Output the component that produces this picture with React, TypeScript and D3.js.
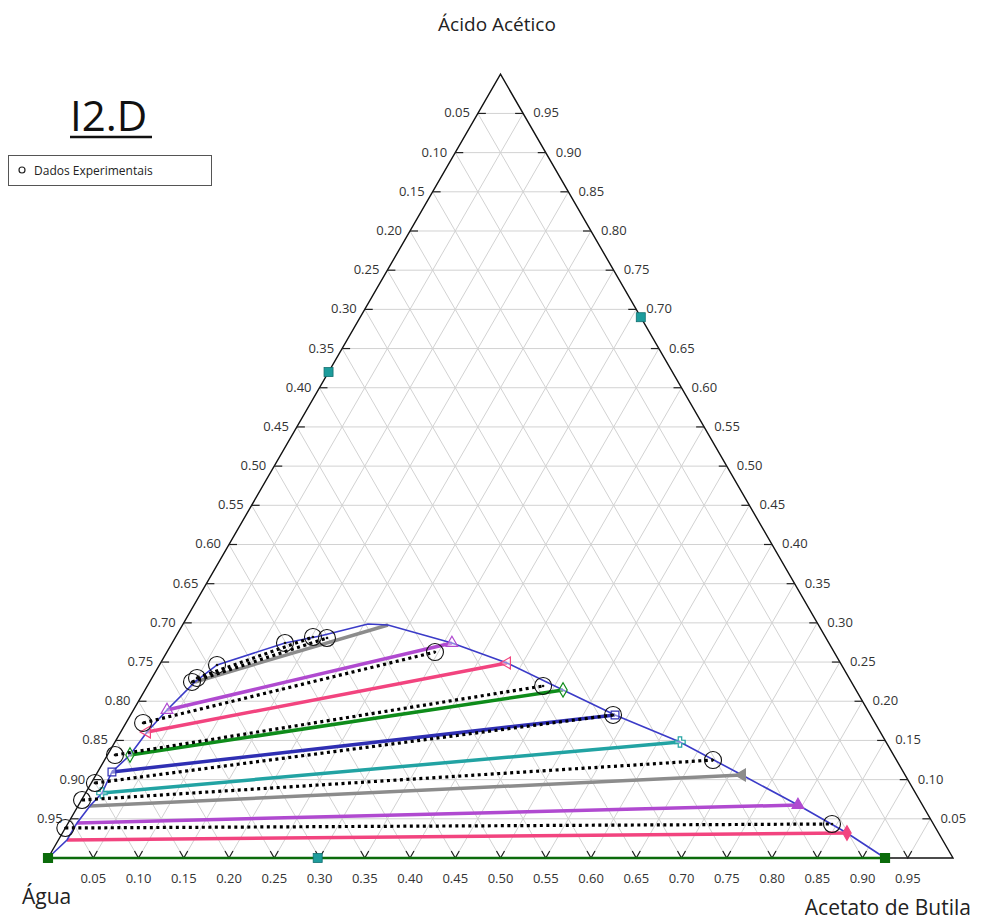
import React, { useRef, useEffect } from 'react';
import * as d3 from 'd3';

// fractions: [acid, butyl acetate]  (water = 1 - a - b)
const ticks = d3.range(1, 20).map(i => i * 0.05);

const binodal: [number, number][] = [
  [0, 0], [0.023, 0.0095], [0.0447, 0.0097], [0.0663, 0.0132], [0.0829, 0.0182],
  [0.1097, 0.0158], [0.1314, 0.0249], [0.1608, 0.029], [0.1888, 0.0371],
  [0.2246, 0.0501], [0.2463, 0.0636], [0.2743, 0.1247], [0.2833, 0.159],
  [0.2986, 0.2043], [0.2973, 0.227], [0.2743, 0.3092], [0.2488, 0.3828],
  [0.2144, 0.4619], [0.1825, 0.5353], [0.148, 0.6243], [0.1059, 0.7139],
  [0.0676, 0.7949], [0.0319, 0.8669], [0, 0.9249],
];

// calculated tie lines: left end, right end, colour, right marker
const tieLeft: [number, number][] = [
  [0, 0], [0.023, 0.0095], [0.0447, 0.0097], [0.0663, 0.0132], [0.0829, 0.0182],
  [0.1097, 0.0158], [0.1314, 0.0249], [0.1608, 0.029], [0.1888, 0.0371], [0.2246, 0.0501],
];
const tieRight: [number, number][] = [
  [0, 0.9249], [0.0319, 0.8669], [0.0676, 0.7949], [0.1059, 0.7139], [0.148, 0.6243],
  [0.1825, 0.5353], [0.2144, 0.4619], [0.2488, 0.3828], [0.2743, 0.3092], [0.2973, 0.227],
];
const tieColors = ['#0b6b0b', '#f2447f', '#b04ad0', '#8c8c8c', '#22a3a3',
  '#2f2fb3', '#0e8c1a', '#f2447f', '#b04ad0', '#8c8c8c'];
const tieSymbols = ['square', 'diamond', 'triangle', 'triangle', 'cross',
  'square', 'diamond', 'triangle', 'triangle', 'none'];
const tieFilled = [true, true, true, true, false, false, false, false, false, false];

// experimental points
const expLeft: [number, number][] = [
  [0.0383, 0], [0.074, 0.0006], [0.0957, 0.004], [0.1314, 0.0083],
  [0.1723, 0.0189], [0.2246, 0.0468], [0.2297, 0.0498],
];
const expRight: [number, number][] = [
  [0.0434, 0.8446], [0.125, 0.6723], [0.1825, 0.5331], [0.2195, 0.4373],
  [0.2628, 0.2962], [0.2807, 0.1679], [0.282, 0.1518],
];
const expExtra: [number, number][] = [[0.2463, 0.0636], [0.2743, 0.1247]];

const tealPoints: [number, number][] = [[0.62, 0], [0.69, 0.31], [0, 0.298]];

const App = () => {
  const svgRef = useRef<SVGSVGElement>(null);

  useEffect(() => {
    const svg = d3.select(svgRef.current);
    svg.selectAll('*').remove();

    const side = 905;
    const xScale = d3.scaleLinear().domain([0, 1]).range([48, 48 + side]);
    const yScale = d3.scaleLinear().domain([0, 1]).range([858, 858 - side * Math.sqrt(3) / 2]);
    const px = (p: [number, number]) => xScale(p[1] + p[0] / 2);
    const py = (p: [number, number]) => yScale(p[0]);
    const font = '"Open Sans", "Noto Sans", sans-serif';

    const g = svg.append('g');

    // grid
    const grid = g.append('g').attr('stroke', '#d2d2d2').attr('stroke-width', 1);
    ticks.forEach(t => {
      const lines: [[number, number], [number, number]][] = [
        [[t, 0], [t, 1 - t]],        // const acid
        [[0, t], [1 - t, t]],        // const butyl acetate
        [[0, 1 - t], [1 - t, 0]],    // const water
      ];
      lines.forEach(([p, q]) => {
        grid.append('line')
          .attr('x1', px(p)).attr('y1', py(p))
          .attr('x2', px(q)).attr('y2', py(q));
      });
    });

    // frame
    const A: [number, number] = [1, 0], W: [number, number] = [0, 0], B: [number, number] = [0, 1];
    g.append('path')
      .attr('d', `M${px(W)},${py(W)}L${px(A)},${py(A)}L${px(B)},${py(B)}Z`)
      .attr('fill', 'none').attr('stroke', '#111').attr('stroke-width', 1.4);

    // ticks + labels
    const tk = g.append('g').attr('stroke', '#222').attr('stroke-width', 1.2);
    const lab = g.append('g').attr('font-family', font).attr('font-size', 13).attr('fill', '#333');
    ticks.forEach(t => {
      const l: [number, number] = [t, 0];
      tk.append('line').attr('x1', px(l)).attr('y1', py(l)).attr('x2', px(l) + 8).attr('y2', py(l));
      lab.append('text').attr('x', px(l) - 8).attr('y', py(l) + 4).attr('text-anchor', 'end')
        .text((1 - t).toFixed(2));
      const r: [number, number] = [t, 1 - t];
      tk.append('line').attr('x1', px(r)).attr('y1', py(r)).attr('x2', px(r) - 8).attr('y2', py(r));
      lab.append('text').attr('x', px(r) + 10).attr('y', py(r) + 4).attr('text-anchor', 'start')
        .text(t.toFixed(2));
      const b: [number, number] = [0, t];
      tk.append('path')
        .attr('d', `M${px(b) - 4},${py(b) - 7}L${px(b)},${py(b)}L${px(b) + 4},${py(b) - 7}`)
        .attr('fill', 'none');
      lab.append('text').attr('x', px(b)).attr('y', py(b) + 25).attr('text-anchor', 'middle')
        .text(t.toFixed(2));
    });

    const line = d3.line<[number, number]>().x(px).y(py);

    // tie lines (calculated)
    tieLeft.forEach((p, i) => {
      g.append('path').attr('d', line([p, tieRight[i]]))
        .attr('stroke', tieColors[i]).attr('stroke-width', i === 0 ? 2.5 : 3.5)
        .attr('fill', 'none');
    });

    // binodal
    g.append('path').attr('d', line(binodal))
      .attr('stroke', '#3b3bc8').attr('stroke-width', 1.6).attr('fill', 'none');

    // tie line markers
    const symType: Record<string, d3.SymbolType> = {
      square: d3.symbolSquare, diamond: d3.symbolDiamond, triangle: d3.symbolTriangle, cross: d3.symbolCross,
    };
    tieRight.forEach((p, i) => {
      const s = tieSymbols[i];
      if (s === 'none') return;
      const sym = d3.symbol().type(symType[s]).size(i === 0 ? 80 : 60);
      [p, tieLeft[i]].forEach((q, k) => {
        if (i === 0 || k === 0 || !tieFilled[i]) {
          g.append('path').attr('d', sym())
            .attr('transform', `translate(${px(q)},${py(q)}) rotate(${s === 'triangle' && i % 2 ? 150 : 0})`)
            .attr('fill', tieFilled[i] ? tieColors[i] : '#fff')
            .attr('fill-opacity', tieFilled[i] ? 1 : 0.4)
            .attr('stroke', tieColors[i]).attr('stroke-width', 1.2);
        }
      });
    });

    // experimental tie lines
    expLeft.forEach((p, i) => {
      g.append('path').attr('d', line([p, expRight[i]]))
        .attr('stroke', '#000').attr('stroke-width', 3.2)
        .attr('stroke-dasharray', '3,3.5').attr('fill', 'none');
    });

    // experimental points
    [...expLeft, ...expRight, ...expExtra].forEach(p => {
      g.append('circle').attr('cx', px(p)).attr('cy', py(p)).attr('r', 8.5)
        .attr('fill', 'none').attr('stroke', '#111').attr('stroke-width', 1.1);
      g.append('circle').attr('cx', px(p)).attr('cy', py(p)).attr('r', 1.3).attr('fill', '#111');
    });

    // teal squares
    tealPoints.forEach(p => {
      g.append('rect').attr('x', px(p) - 4.5).attr('y', py(p) - 4.5)
        .attr('width', 9).attr('height', 9)
        .attr('fill', '#1d9c9c').attr('stroke', '#127070').attr('stroke-width', 0.8);
    });

    // axis titles
    g.append('text').attr('x', 497).attr('y', 31).attr('text-anchor', 'middle')
      .attr('font-family', font).attr('font-size', 19).attr('fill', '#222').text('Ácido Acético');
    g.append('text').attr('x', 22).attr('y', 904)
      .attr('font-family', font).attr('font-size', 21).attr('fill', '#222').text('Água');
    g.append('text').attr('x', 971).attr('y', 915).attr('text-anchor', 'end')
      .attr('font-family', font).attr('font-size', 21).attr('fill', '#222').text('Acetato de Butila');

    // title
    g.append('text').attr('x', 70).attr('y', 131)
      .attr('font-family', font).attr('font-size', 42).attr('fill', '#111').text('I2.D');
    g.append('line').attr('x1', 70).attr('x2', 152).attr('y1', 137).attr('y2', 137)
      .attr('stroke', '#111').attr('stroke-width', 2.5);

    // legend
    g.append('rect').attr('x', 8.5).attr('y', 155.5).attr('width', 203).attr('height', 30)
      .attr('fill', '#fff').attr('stroke', '#555').attr('stroke-width', 1);
    g.append('circle').attr('cx', 22).attr('cy', 170).attr('r', 3)
      .attr('fill', 'none').attr('stroke', '#222').attr('stroke-width', 1.2);
    g.append('text').attr('x', 34).attr('y', 175)
      .attr('font-family', font).attr('font-size', 12).attr('fill', '#222').text('Dados Experimentais');
  }, []);

  return (
    <svg ref={svgRef} width={993} height={924}
      style={{ position: 'absolute', left: 0, top: 0, background: '#fff' }}></svg>
  );
};

export default App;
